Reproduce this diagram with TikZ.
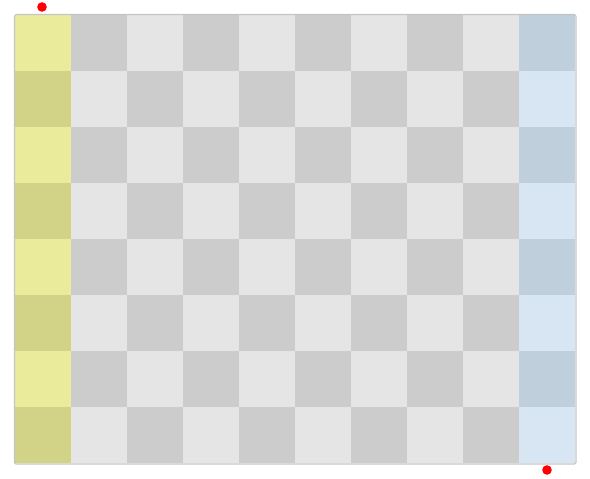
\documentclass[tikz,border=0pt]{standalone}
\definecolor{ylight}{HTML}{EBEB9C}
\definecolor{ydark}{HTML}{D3D387}
\definecolor{glight}{HTML}{E5E5E5}
\definecolor{gdark}{HTML}{CCCCCC}
\definecolor{blight}{HTML}{D8E6F3}
\definecolor{bdark}{HTML}{BFCFDC}
\definecolor{frame}{HTML}{C4C4C4}
\tikzset{cell/.style={draw=none},dot/.style={fill=red,draw=none}}
\begin{document}
\begin{tikzpicture}[x=0.5pt,y=-0.5pt]
\useasboundingbox (0,0) rectangle (590,478);
\foreach \r in {0,...,7}{
  \foreach \c in {0,...,9}{
    \pgfmathtruncatemacro{\myparity}{mod(\r+\c,2)}
    \pgfmathtruncatemacro{\rp}{mod(\r,2)}
    \ifnum\c=0
      \ifnum\rp=0 \def\col{ylight}\else\def\col{ydark}\fi
    \else\ifnum\c=9
      \ifnum\rp=0 \def\col{bdark}\else\def\col{blight}\fi
    \else
      \ifnum\myparity=1 \def\col{gdark}\else\def\col{glight}\fi
    \fi\fi
    \fill[cell,fill=\col] (15+56*\c,15+56*\r) rectangle (71+56*\c,71+56*\r);
  }
}
\draw[frame,line width=0.6pt,rounded corners=0.8pt] (14.5,14.5) rectangle (576,464);
\coordinate (p1) at (42,7);
\coordinate (p2) at (547,470);
\fill[dot] (p1) circle (4.8);
\fill[dot] (p2) circle (4.8);
\end{tikzpicture}
\end{document}
